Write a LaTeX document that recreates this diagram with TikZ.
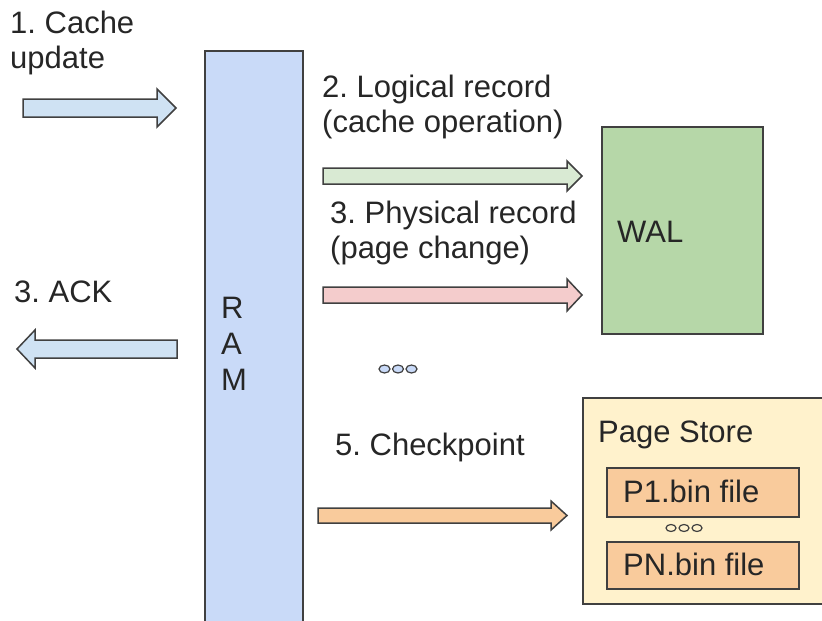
\documentclass[tikz,border=0pt]{standalone}
\usepackage{fontspec}
\setmainfont{Liberation Sans}
\frenchspacing
\definecolor{ramfill}{HTML}{C9DAF8}
\definecolor{bluearr}{HTML}{CFE2F3}
\definecolor{greenarr}{HTML}{D9EAD3}
\definecolor{walfill}{HTML}{B6D7A8}
\definecolor{pinkarr}{HTML}{F4CCCC}
\definecolor{orangefill}{HTML}{F9CB9C}
\definecolor{storefill}{HTML}{FFF2CC}
\definecolor{edge}{HTML}{404040}
\begin{document}
\begin{tikzpicture}[x=1pt,y=-1pt,
  lbl/.style={anchor=base west,inner sep=0pt,font=\fontsize{31}{36}\selectfont\frenchspacing,text=black!85},
  shp/.style={draw=edge,line width=1.5pt,line join=miter},
  dot/.style={draw=edge,line width=1.2pt,fill=ramfill}]
\useasboundingbox (0,0) rectangle (822,621);
% RAM
\fill[ramfill] (205,51) rectangle (303,623);
\draw[shp] (205,623) -- (205,51) -- (303,51) -- (303,623);
\node[lbl] (r1) at (221,318) {R};
\node[lbl] (r2) at (221,354) {A};
\node[lbl] (r3) at (221,390) {M};
% Cache update
\node[lbl] (cu1) at (10,33) {1. Cache};
\node[lbl] (cu2) at (10,68) {update};
\draw[shp,fill=bluearr] (23,99) -- (157,99) -- (157,89) -- (176,108) -- (157,127) -- (157,117) -- (23,117) -- cycle;
% ACK
\node[lbl] (ack) at (14,302) {3. ACK};
\draw[shp,fill=bluearr] (177,340) -- (35,340) -- (35,330) -- (17,349) -- (35,368) -- (35,358) -- (177,358) -- cycle;
% WAL
\node[shp,fill=walfill,minimum width=161pt,minimum height=207pt,inner sep=0pt,anchor=north west] (wal) at (601,126) {};
\node[lbl] (walt) at (617,242) {WAL};
% Logical record
\node[lbl] (lr1) at (322,97) {2. Logical record};
\node[lbl] (lr2) at (322,132) {(cache operation)};
\draw[shp,fill=greenarr] (323,168) -- (567,168) -- (567,161) -- (582,176) -- (567,191) -- (567,184) -- (323,184) -- cycle;
% Physical record
\node[lbl] (pr1) at (330,223) {3. Physical record};
\node[lbl] (pr2) at (330,258) {(page change)};
\draw[shp,fill=pinkarr] (323,287) -- (567,287) -- (567,279) -- (582,295) -- (567,311) -- (567,303) -- (323,303) -- cycle;
% dots
\draw[dot] (384.5,369) ellipse [x radius=5.5pt,y radius=4pt];
\draw[dot] (398,369) ellipse [x radius=5.5pt,y radius=4pt];
\draw[dot] (411.5,369) ellipse [x radius=5.5pt,y radius=4pt];
% Checkpoint
\node[lbl] (cp) at (335,455) {5. Checkpoint};
\draw[shp,fill=orangefill] (318,508) -- (551,508) -- (551,501) -- (567,515.5) -- (551,530) -- (551,523) -- (318,523) -- cycle;
% Page store
\fill[storefill] (583,398) rectangle (824,604);
\draw[shp] (824,398) -- (583,398) -- (583,604) -- (824,604);
\node[lbl] (ps) at (598,442) {Page Store};
\node[shp,fill=orangefill,minimum width=192pt,minimum height=49pt,inner sep=0pt,anchor=north west] (p1) at (606,467) {};
\node[lbl] (p1t) at (623,502) {P1.bin file};
\draw[dot,fill=storefill] (671,528) ellipse [x radius=5pt,y radius=3.5pt];
\draw[dot,fill=storefill] (684,528) ellipse [x radius=5pt,y radius=3.5pt];
\draw[dot,fill=storefill] (697,528) ellipse [x radius=5pt,y radius=3.5pt];
\node[shp,fill=orangefill,minimum width=192pt,minimum height=47pt,inner sep=0pt,anchor=north west] (pn) at (606,541) {};
\node[lbl] (pnt) at (623,575) {PN.bin file};
\end{tikzpicture}
\end{document}
